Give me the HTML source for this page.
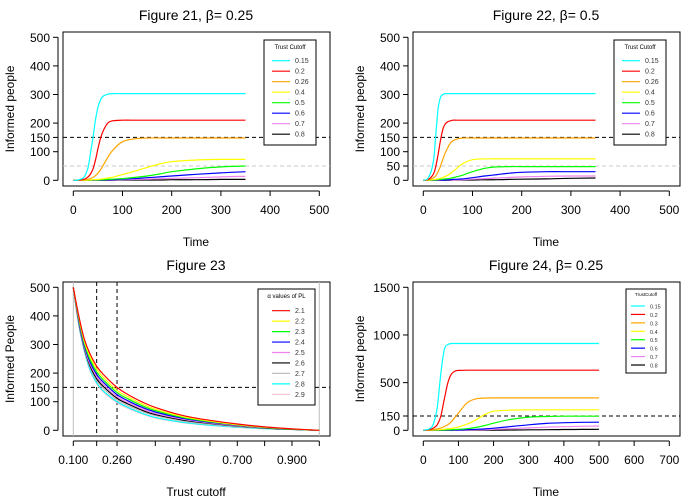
<!DOCTYPE html>
<html><head><meta charset="utf-8"><style>
body{margin:0;background:#fff;}
svg{font-family:"Liberation Sans",sans-serif;display:block;}
</style></head><body>
<svg id="chart" width="700" height="500" viewBox="0 0 700 500"></svg>
<script>
// ---- data ----
const cutoffLabels=["0.15","0.2","0.26","0.4","0.5","0.6","0.7","0.8"];
const cutoffLabels24=["0.15","0.2","0.3","0.4","0.5","0.6","0.7","0.8"];
const timeColors=["#00ffff","#ff0000","#ffa500","#ffff00","#00ff00","#0000ff","#ee82ee","#000000"];
const times=[0,10,20,25,30,35,40,45,50,55,60,70,80,100,125,150,175,200,250,300,350];
const fig21=[
[0,1,8,20,45,95,150,210,255,280,293,301,303,303,303,303,303,303,303,303,303],
[0,0,3,6,12,22,40,70,110,145,170,200,208,210,210,210,210,210,210,210,210],
[0,0,1,2,4,6,10,16,25,36,50,80,105,135,145,148,148,148,148,148,148],
[0,0,0,0,1,1,2,2,3,4,5,8,11,20,32,45,57,65,71,73,73],
[0,0,0,0,0,0,1,1,1,2,2,3,4,6,10,15,22,30,40,47,50],
[0,0,0,0,0,0,0,1,1,1,1,2,2,4,6,9,12,15,21,26,30],
[0,0,0,0,0,0,0,0,0,1,1,1,1,2,3,4,6,7,9,12,14],
[0,0,0,0,0,0,0,0,0,0,0,0,0,1,1,1,1,2,2,3,3]];
const fig22=[
[0,8,60,150,250,290,300,303,303,303,303,303,303,303,303,303,303,303,303,303,303],
[0,3,20,45,90,140,180,198,205,208,210,210,210,210,210,210,210,210,210,210,210],
[0,1,8,15,30,50,75,97,115,130,138,145,148,148,148,148,148,148,148,148,148],
[0,0,2,3,5,7,10,14,18,24,30,45,58,72,75,75,75,75,75,75,75],
[0,0,1,1,2,3,4,5,6,7,9,13,18,30,42,47,48,48,48,48,48],
[0,0,0,0,1,1,1,1,2,2,3,4,5,9,15,20,25,28,30,30,30],
[0,0,0,0,0,0,1,1,1,1,1,2,2,4,6,8,10,12,14,15,15],
[0,0,0,0,0,0,0,0,0,0,1,1,1,1,2,2,3,4,5,7,8]];
const times24=[0,20,30,40,50,60,70,80,90,100,125,150,175,200,250,300,350,400,450,500];
const fig24=[
[0,20,80,250,600,850,900,910,910,910,910,910,910,910,910,910,910,910,910,910],
[0,8,25,60,150,330,500,590,620,628,630,630,630,630,630,630,630,630,630,630],
[0,3,8,15,25,40,60,90,135,180,290,330,338,340,340,340,340,340,340,340],
[0,1,3,5,8,12,16,20,27,35,65,110,165,200,212,215,215,215,215,215],
[0,0,1,2,3,4,5,6,8,10,17,30,50,75,115,138,145,148,148,148],
[0,0,0,1,1,1,2,2,3,4,7,10,15,22,40,58,72,80,84,85],
[0,0,0,0,0,1,1,1,1,2,3,5,7,10,17,25,32,38,42,45],
[0,0,0,0,0,0,0,0,1,1,1,1,2,2,3,5,6,8,9,10]];
const cutoffs=[0.1,0.12,0.14,0.16,0.185,0.21,0.26,0.3,0.35,0.4,0.5,0.6,0.7,0.8,0.9,1.0];
const alphaLabels=["2.1","2.2","2.3","2.4","2.5","2.6","2.7","2.8","2.9"];
const alphaColors=["#ff0000","#ffff00","#00ff00","#0000ff","#ee82ee","#000000","#bebebe","#00ffff","#ffc0cb"];
const fig23=[
[500,400,320,270,225,195,150,125,100,80,52,35,22,12,5,0],
[500,395,312,260,215,185,140,117,93,74,48,32,20,11,5,0],
[500,390,305,250,205,176,132,110,87,69,45,30,19,10,4,0],
[500,385,298,242,196,168,125,103,81,64,42,28,18,10,4,0],
[500,380,292,234,188,160,118,97,76,59,39,26,16,9,4,0],
[500,377,288,228,181,153,112,92,71,55,36,24,15,8,3,0],
[500,374,285,223,175,146,106,86,66,51,32,21,13,7,3,0],
[500,370,280,215,167,137,100,80,60,45,28,18,11,6,3,0],
[500,368,277,212,164,134,97,77,58,43,27,17,10,6,3,0]];
const timeTicks500=[0,100,200,300,400,500];
const timeTicks700=[0,100,200,300,400,500,600,700];
const yTicks21=[0,100,150,200,300,400,500];
const yTicks22=[0,50,100,150,200,300,400,500];
const yTicks24=[0,150,500,1000,1500];
const xTicks23=[0.1,0.1855,0.26,0.4,0.49,0.6,0.7,0.8,0.9,1.0];
const xTickLabels23=["0.100","","0.260","","0.490","","0.700","","0.900",""];
const yTicks23=[0,100,150,200,300,400,500];

const NS="http://www.w3.org/2000/svg";
const svg=document.getElementById('chart');
function el(tag,attrs,parent,text){const e=document.createElementNS(NS,tag);for(const k in attrs)e.setAttribute(k,attrs[k]);if(text!==undefined)e.textContent=text;(parent||svg).appendChild(e);return e;}

function panel(ox,oy,name,xmin,xmax,ymax){
  const g=el('g',{transform:`translate(${ox},${oy})`});
  
  
  const sx=v=>73.3+(v-xmin)/(xmax-xmin)*246;
  const sy=v=>180.3-v/ymax*143;
  return {g,sx,sy};
}
function frame(p,title,xlab,ylab,xt,xl,yt){
  const g=p.g;
  const t=el('text',{x:196,y:20,'text-anchor':'middle','font-size':14},g,'');
  t.innerHTML=title;
  
  
  const b=el('rect',{x:63,y:32,width:267,height:154,fill:'none',stroke:'#000','stroke-width':1},g);
  
  
  const xa=el('g',{},g);
  
  
  el('line',{x1:p.sx(xt[0]),x2:p.sx(xt[xt.length-1]),y1:191,y2:191,stroke:'#000'},xa);
  xt.forEach((v,i)=>{el('line',{x1:p.sx(v),x2:p.sx(v),y1:191,y2:196,stroke:'#000'},xa);
    const lab=xl?xl[i]:String(v); if(lab)el('text',{x:p.sx(v),y:214,'text-anchor':'middle','font-size':12},xa,lab);});
  const ya=el('g',{},g);
  
  
  el('line',{x1:58,x2:58,y1:p.sy(yt[0]),y2:p.sy(yt[yt.length-1]),stroke:'#000'},ya);
  yt.forEach(v=>{el('line',{x1:53,x2:58,y1:p.sy(v),y2:p.sy(v),stroke:'#000'},ya);
    el('text',{x:50,y:p.sy(v)+4.5,'text-anchor':'end','font-size':12},ya,String(v));});
  const xlT=el('text',{x:196,y:246,'text-anchor':'middle','font-size':12},g,xlab);
  
  
  const ylT=el('text',{x:0,y:0,transform:'translate(14,109) rotate(-90)','text-anchor':'middle','font-size':12},g,ylab);
  
  
}
function hline(p,v,color){el('line',{x1:63,x2:330,y1:p.sy(v),y2:p.sy(v),stroke:color,'stroke-dasharray':'4,3'},p.g);}
function series(p,xs,ys,color,name){
  const pts=xs.map((x,i)=>[p.sx(x),p.sy(ys[i])]);
  let d='M'+pts[0][0].toFixed(1)+','+pts[0][1].toFixed(1);
  for(let i=0;i<pts.length-1;i++){
    const p0=pts[Math.max(0,i-1)],p1=pts[i],p2=pts[i+1],p3=pts[Math.min(pts.length-1,i+2)];
    const c1=[p1[0]+(p2[0]-p0[0])/6,p1[1]+(p2[1]-p0[1])/6];
    const c2=[p2[0]-(p3[0]-p1[0])/6,p2[1]-(p3[1]-p1[1])/6];
    d+=` C${c1[0].toFixed(1)},${c1[1].toFixed(1)} ${c2[0].toFixed(1)},${c2[1].toFixed(1)} ${p2[0].toFixed(1)},${p2[1].toFixed(1)}`;
  }
  const l=el('path',{d:d,fill:'none',stroke:color,'stroke-width':1.2,'stroke-linejoin':'round'},p.g);
  
  
}
function legend(p,x,y,w,h,title,labels,colors,step,fs,lx1,lx2,tx,ty0,ty){
  const lg=el('g',{},p.g);
  
  
  el('rect',{x:x,y:y,width:w,height:h,fill:'#fff',stroke:'#000'},lg);
  el('text',{x:x+w/2,y:ty,'text-anchor':'middle','font-size':fs-1},lg,title);
  labels.forEach((lb,i)=>{const yy=ty0+i*step;
    const e=el('g',{},lg);
    
    
    el('line',{x1:lx1,x2:lx2,y1:yy,y2:yy,stroke:colors[i],'stroke-width':1.2},e);
    el('text',{x:tx,y:yy+2.5,'font-size':fs,fill:'#333'},e,lb);});
}

// Figure 21
let p=panel(0,0,'figure-21',0,500,500);
frame(p,'Figure 21, &#946;= 0.25','Time','Informed people',timeTicks500,null,yTicks21);
hline(p,50,'#c8c8c8');hline(p,150,'#000');
for(let i=7;i>=0;i--)series(p,times,fig21[i],timeColors[i],'line-cutoff-'+cutoffLabels[i]);
legend(p,264,40,52,105,'Trust Cutoff',cutoffLabels,timeColors,10.5,7,272,290,295,60.7,49);

// Figure 22
p=panel(350,0,'figure-22',0,500,500);
frame(p,'Figure 22, &#946;= 0.5','Time','Informed people',timeTicks500,null,yTicks22);
hline(p,50,'#c8c8c8');hline(p,150,'#000');
for(let i=7;i>=0;i--)series(p,times,fig22[i],timeColors[i],'line-cutoff-'+cutoffLabels[i]);
legend(p,264,40,52,105,'Trust Cutoff',cutoffLabels,timeColors,10.5,7,272,290,295,60.7,49);

// Figure 23
p=panel(0,250,'figure-23',0.1,1.0,500);
frame(p,'Figure 23','Trust cutoff','Informed People',xTicks23,xTickLabels23,yTicks23);
el('line',{x1:p.sx(0.1),x2:p.sx(0.1),y1:32,y2:186,stroke:'#bebebe'},p.g);
el('line',{x1:p.sx(1.0),x2:p.sx(1.0),y1:32,y2:186,stroke:'#bebebe'},p.g);
el('line',{x1:p.sx(0.1855),x2:p.sx(0.1855),y1:32,y2:186,stroke:'#000','stroke-dasharray':'4,3'},p.g);
el('line',{x1:p.sx(0.26),x2:p.sx(0.26),y1:32,y2:186,stroke:'#000','stroke-dasharray':'4,3'},p.g);
hline(p,150,'#000');
for(let i=8;i>=0;i--)series(p,cutoffs,fig23[i],alphaColors[i],'line-alpha-'+alphaLabels[i]);
legend(p,258,39,57,116,'\u03B1 values of PL',alphaLabels,alphaColors,10.45,7,272,290,295,60.7,48);

// Figure 24
p=panel(350,250,'figure-24',0,700,1500);
frame(p,'Figure 24, &#946;= 0.25','Time','Informed people',timeTicks700,null,yTicks24);
hline(p,150,'#000');
for(let i=7;i>=0;i--)series(p,times24,fig24[i],timeColors[i],'line-cutoff-'+cutoffLabels24[i]);
legend(p,276,39,40,84,'TrustCutoff',cutoffLabels24,timeColors,8.43,5.5,281,295,300,56,46);
</script>
</body></html>
